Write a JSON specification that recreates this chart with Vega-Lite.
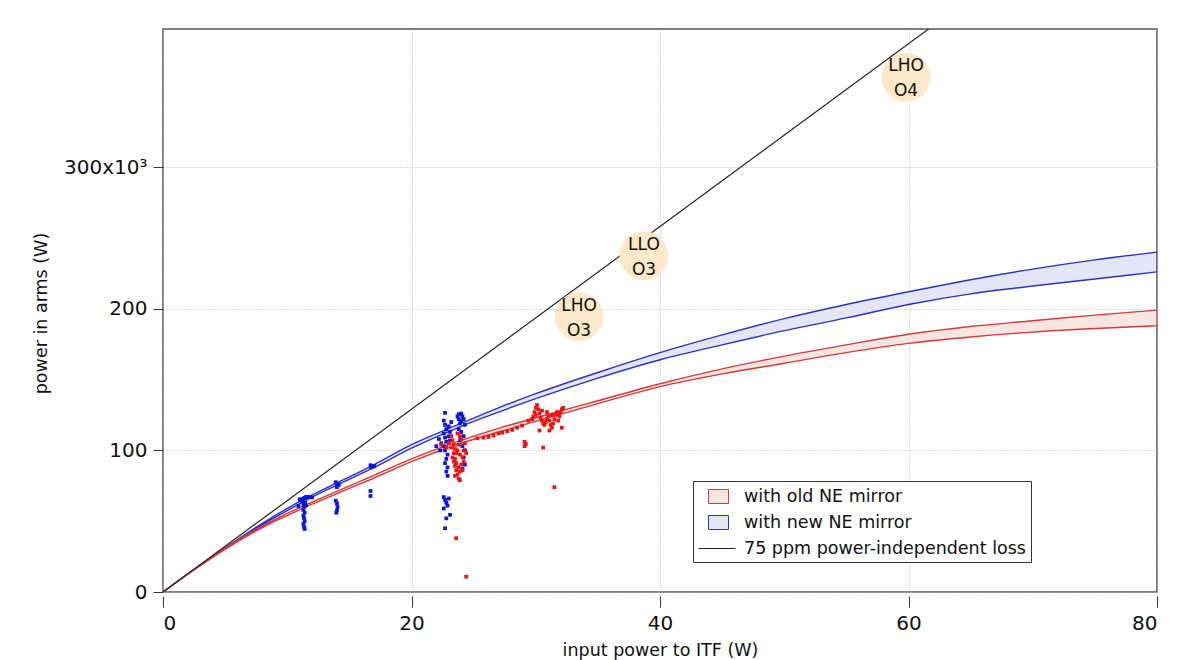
{
  "$schema": "https://vega.github.io/schema/vega-lite/v6.json",
  "width": 994,
  "height": 563,
  "autosize": {"type": "none"},
  "padding": {"left": 163, "top": 29, "right": 27, "bottom": 68},
  "background": "white",
  "datasets": {
    "curves": [
      {"P_in": 0, "mirror": "with new NE mirror", "upper": 0, "lower": 0},
      {"P_in": 2, "mirror": "with new NE mirror", "upper": 12800, "lower": 12700},
      {"P_in": 4, "mirror": "with new NE mirror", "upper": 25200, "lower": 25000},
      {"P_in": 6, "mirror": "with new NE mirror", "upper": 37000, "lower": 36500},
      {"P_in": 8, "mirror": "with new NE mirror", "upper": 48500, "lower": 47500},
      {"P_in": 10, "mirror": "with new NE mirror", "upper": 59000, "lower": 57500},
      {"P_in": 12, "mirror": "with new NE mirror", "upper": 68500, "lower": 67000},
      {"P_in": 14, "mirror": "with new NE mirror", "upper": 77000, "lower": 75500},
      {"P_in": 17, "mirror": "with new NE mirror", "upper": 90000, "lower": 88000},
      {"P_in": 20, "mirror": "with new NE mirror", "upper": 104000, "lower": 101500},
      {"P_in": 24, "mirror": "with new NE mirror", "upper": 119000, "lower": 117000},
      {"P_in": 27, "mirror": "with new NE mirror", "upper": 130000, "lower": 127000},
      {"P_in": 30, "mirror": "with new NE mirror", "upper": 140000, "lower": 136500},
      {"P_in": 35, "mirror": "with new NE mirror", "upper": 155000, "lower": 151000},
      {"P_in": 40, "mirror": "with new NE mirror", "upper": 169000, "lower": 164000},
      {"P_in": 45, "mirror": "with new NE mirror", "upper": 181500, "lower": 174500},
      {"P_in": 50, "mirror": "with new NE mirror", "upper": 193000, "lower": 184500},
      {"P_in": 55, "mirror": "with new NE mirror", "upper": 203000, "lower": 193500},
      {"P_in": 60, "mirror": "with new NE mirror", "upper": 212000, "lower": 203000},
      {"P_in": 65, "mirror": "with new NE mirror", "upper": 220500, "lower": 210500},
      {"P_in": 70, "mirror": "with new NE mirror", "upper": 228000, "lower": 216000},
      {"P_in": 75, "mirror": "with new NE mirror", "upper": 234500, "lower": 221000},
      {"P_in": 80, "mirror": "with new NE mirror", "upper": 240000, "lower": 226000},
      {"P_in": 0, "mirror": "with old NE mirror", "upper": 0, "lower": 0},
      {"P_in": 2, "mirror": "with old NE mirror", "upper": 12700, "lower": 12600},
      {"P_in": 4, "mirror": "with old NE mirror", "upper": 25000, "lower": 24500},
      {"P_in": 6, "mirror": "with old NE mirror", "upper": 36500, "lower": 35500},
      {"P_in": 8, "mirror": "with old NE mirror", "upper": 46500, "lower": 45500},
      {"P_in": 10, "mirror": "with old NE mirror", "upper": 55500, "lower": 54000},
      {"P_in": 12, "mirror": "with old NE mirror", "upper": 63500, "lower": 62000},
      {"P_in": 14, "mirror": "with old NE mirror", "upper": 71000, "lower": 69500},
      {"P_in": 17, "mirror": "with old NE mirror", "upper": 82500, "lower": 80500},
      {"P_in": 20, "mirror": "with old NE mirror", "upper": 94000, "lower": 92000},
      {"P_in": 24, "mirror": "with old NE mirror", "upper": 107000, "lower": 105000},
      {"P_in": 27, "mirror": "with old NE mirror", "upper": 115500, "lower": 113000},
      {"P_in": 30, "mirror": "with old NE mirror", "upper": 123000, "lower": 120500},
      {"P_in": 35, "mirror": "with old NE mirror", "upper": 135000, "lower": 133000},
      {"P_in": 40, "mirror": "with old NE mirror", "upper": 147000, "lower": 145000},
      {"P_in": 45, "mirror": "with old NE mirror", "upper": 157500, "lower": 154000},
      {"P_in": 50, "mirror": "with old NE mirror", "upper": 166500, "lower": 161500},
      {"P_in": 55, "mirror": "with old NE mirror", "upper": 174500, "lower": 169000},
      {"P_in": 60, "mirror": "with old NE mirror", "upper": 182000, "lower": 175500},
      {"P_in": 65, "mirror": "with old NE mirror", "upper": 187500, "lower": 180000},
      {"P_in": 70, "mirror": "with old NE mirror", "upper": 191500, "lower": 183500},
      {"P_in": 75, "mirror": "with old NE mirror", "upper": 195500, "lower": 186000},
      {"P_in": 80, "mirror": "with old NE mirror", "upper": 199000, "lower": 188000}
    ],
    "loss": [
      {"P_in": 0, "P_arm": 0, "mirror": "75 ppm power-independent loss"},
      {"P_in": 62, "P_arm": 400000, "mirror": "75 ppm power-independent loss"}
    ],
    "labels": [
      {"P_in": 33.48, "P_arm": 194500, "site": "LHO\nO3"},
      {"P_in": 38.71, "P_arm": 237500, "site": "LLO\nO3"},
      {"P_in": 59.8, "P_arm": 363500, "site": "LHO\nO4"}
    ],
    "points": [
      {"P_in": 11.0, "P_arm": 65500, "mirror": "new"},
      {"P_in": 11.2, "P_arm": 64000, "mirror": "new"},
      {"P_in": 11.25, "P_arm": 65000, "mirror": "new"},
      {"P_in": 11.3, "P_arm": 66000, "mirror": "new"},
      {"P_in": 11.4, "P_arm": 66500, "mirror": "new"},
      {"P_in": 11.5, "P_arm": 67000, "mirror": "new"},
      {"P_in": 11.6, "P_arm": 67200, "mirror": "new"},
      {"P_in": 11.8, "P_arm": 67000, "mirror": "new"},
      {"P_in": 12.0, "P_arm": 66800, "mirror": "new"},
      {"P_in": 11.3, "P_arm": 62000, "mirror": "new"},
      {"P_in": 11.35, "P_arm": 60000, "mirror": "new"},
      {"P_in": 11.3, "P_arm": 58000, "mirror": "new"},
      {"P_in": 11.4, "P_arm": 56000, "mirror": "new"},
      {"P_in": 11.3, "P_arm": 54000, "mirror": "new"},
      {"P_in": 11.35, "P_arm": 52000, "mirror": "new"},
      {"P_in": 11.4, "P_arm": 50000, "mirror": "new"},
      {"P_in": 11.3, "P_arm": 48000, "mirror": "new"},
      {"P_in": 11.35, "P_arm": 46000, "mirror": "new"},
      {"P_in": 11.45, "P_arm": 63000, "mirror": "new"},
      {"P_in": 11.5, "P_arm": 61000, "mirror": "new"},
      {"P_in": 11.4, "P_arm": 44500, "mirror": "new"},
      {"P_in": 10.9, "P_arm": 60700, "mirror": "new"},
      {"P_in": 13.9, "P_arm": 77500, "mirror": "new"},
      {"P_in": 14.0, "P_arm": 76500, "mirror": "new"},
      {"P_in": 14.1, "P_arm": 75500, "mirror": "new"},
      {"P_in": 14.0, "P_arm": 74000, "mirror": "new"},
      {"P_in": 14.15, "P_arm": 76000, "mirror": "new"},
      {"P_in": 13.9, "P_arm": 64500, "mirror": "new"},
      {"P_in": 14.0, "P_arm": 62500, "mirror": "new"},
      {"P_in": 14.05, "P_arm": 60000, "mirror": "new"},
      {"P_in": 14.0, "P_arm": 57500, "mirror": "new"},
      {"P_in": 13.95, "P_arm": 56000, "mirror": "new"},
      {"P_in": 16.7, "P_arm": 89500, "mirror": "new"},
      {"P_in": 16.8, "P_arm": 89000, "mirror": "new"},
      {"P_in": 16.9, "P_arm": 88500, "mirror": "new"},
      {"P_in": 17.0, "P_arm": 89000, "mirror": "new"},
      {"P_in": 16.75, "P_arm": 88000, "mirror": "new"},
      {"P_in": 16.7, "P_arm": 71300, "mirror": "new"},
      {"P_in": 16.7, "P_arm": 67800, "mirror": "new"},
      {"P_in": 22.6, "P_arm": 121000, "mirror": "new"},
      {"P_in": 22.7, "P_arm": 118000, "mirror": "new"},
      {"P_in": 22.8, "P_arm": 115000, "mirror": "new"},
      {"P_in": 22.6, "P_arm": 112000, "mirror": "new"},
      {"P_in": 22.7, "P_arm": 109000, "mirror": "new"},
      {"P_in": 22.8, "P_arm": 106000, "mirror": "new"},
      {"P_in": 22.6, "P_arm": 103000, "mirror": "new"},
      {"P_in": 22.7, "P_arm": 100000, "mirror": "new"},
      {"P_in": 22.9, "P_arm": 97000, "mirror": "new"},
      {"P_in": 22.8, "P_arm": 94000, "mirror": "new"},
      {"P_in": 22.7, "P_arm": 91000, "mirror": "new"},
      {"P_in": 22.9, "P_arm": 88000, "mirror": "new"},
      {"P_in": 22.8, "P_arm": 85000, "mirror": "new"},
      {"P_in": 22.9, "P_arm": 82000, "mirror": "new"},
      {"P_in": 23.0, "P_arm": 110000, "mirror": "new"},
      {"P_in": 23.1, "P_arm": 113000, "mirror": "new"},
      {"P_in": 23.0, "P_arm": 117000, "mirror": "new"},
      {"P_in": 23.2, "P_arm": 120000, "mirror": "new"},
      {"P_in": 23.1, "P_arm": 107000, "mirror": "new"},
      {"P_in": 22.7, "P_arm": 126500, "mirror": "new"},
      {"P_in": 22.0, "P_arm": 103000, "mirror": "new"},
      {"P_in": 22.2, "P_arm": 108000, "mirror": "new"},
      {"P_in": 22.3, "P_arm": 100000, "mirror": "new"},
      {"P_in": 22.4, "P_arm": 105000, "mirror": "new"},
      {"P_in": 23.7, "P_arm": 124000, "mirror": "new"},
      {"P_in": 23.8, "P_arm": 122000, "mirror": "new"},
      {"P_in": 23.9, "P_arm": 119000, "mirror": "new"},
      {"P_in": 24.0, "P_arm": 121000, "mirror": "new"},
      {"P_in": 24.1, "P_arm": 124000, "mirror": "new"},
      {"P_in": 24.2, "P_arm": 122000, "mirror": "new"},
      {"P_in": 24.3, "P_arm": 118000, "mirror": "new"},
      {"P_in": 23.8, "P_arm": 115000, "mirror": "new"},
      {"P_in": 24.0, "P_arm": 113000, "mirror": "new"},
      {"P_in": 24.2, "P_arm": 110000, "mirror": "new"},
      {"P_in": 23.9, "P_arm": 107000, "mirror": "new"},
      {"P_in": 24.1, "P_arm": 103000, "mirror": "new"},
      {"P_in": 24.3, "P_arm": 100000, "mirror": "new"},
      {"P_in": 24.2, "P_arm": 95000, "mirror": "new"},
      {"P_in": 24.3, "P_arm": 90000, "mirror": "new"},
      {"P_in": 24.1, "P_arm": 87000, "mirror": "new"},
      {"P_in": 23.8, "P_arm": 125500, "mirror": "new"},
      {"P_in": 24.0, "P_arm": 126000, "mirror": "new"},
      {"P_in": 22.6, "P_arm": 67000, "mirror": "new"},
      {"P_in": 22.7, "P_arm": 65000, "mirror": "new"},
      {"P_in": 22.8, "P_arm": 63000, "mirror": "new"},
      {"P_in": 22.9, "P_arm": 61000, "mirror": "new"},
      {"P_in": 22.6, "P_arm": 59000, "mirror": "new"},
      {"P_in": 23.0, "P_arm": 66000, "mirror": "new"},
      {"P_in": 23.1, "P_arm": 54500, "mirror": "new"},
      {"P_in": 22.8, "P_arm": 52000, "mirror": "new"},
      {"P_in": 22.7, "P_arm": 45000, "mirror": "new"},
      {"P_in": 23.2, "P_arm": 110000, "mirror": "old"},
      {"P_in": 23.3, "P_arm": 107000, "mirror": "old"},
      {"P_in": 23.4, "P_arm": 104000, "mirror": "old"},
      {"P_in": 23.5, "P_arm": 101000, "mirror": "old"},
      {"P_in": 23.6, "P_arm": 98000, "mirror": "old"},
      {"P_in": 23.3, "P_arm": 95000, "mirror": "old"},
      {"P_in": 23.4, "P_arm": 92000, "mirror": "old"},
      {"P_in": 23.5, "P_arm": 89000, "mirror": "old"},
      {"P_in": 23.6, "P_arm": 86000, "mirror": "old"},
      {"P_in": 23.7, "P_arm": 83000, "mirror": "old"},
      {"P_in": 23.8, "P_arm": 80000, "mirror": "old"},
      {"P_in": 23.9, "P_arm": 85000, "mirror": "old"},
      {"P_in": 24.0, "P_arm": 90000, "mirror": "old"},
      {"P_in": 24.1, "P_arm": 95000, "mirror": "old"},
      {"P_in": 24.2, "P_arm": 100000, "mirror": "old"},
      {"P_in": 24.3, "P_arm": 105000, "mirror": "old"},
      {"P_in": 24.0, "P_arm": 108000, "mirror": "old"},
      {"P_in": 23.8, "P_arm": 104000, "mirror": "old"},
      {"P_in": 23.7, "P_arm": 100000, "mirror": "old"},
      {"P_in": 23.9, "P_arm": 97000, "mirror": "old"},
      {"P_in": 23.5, "P_arm": 94000, "mirror": "old"},
      {"P_in": 23.6, "P_arm": 91000, "mirror": "old"},
      {"P_in": 23.8, "P_arm": 88000, "mirror": "old"},
      {"P_in": 24.1, "P_arm": 86000, "mirror": "old"},
      {"P_in": 23.4, "P_arm": 98000, "mirror": "old"},
      {"P_in": 23.2, "P_arm": 102000, "mirror": "old"},
      {"P_in": 24.2, "P_arm": 92000, "mirror": "old"},
      {"P_in": 23.9, "P_arm": 110000, "mirror": "old"},
      {"P_in": 23.7, "P_arm": 112000, "mirror": "old"},
      {"P_in": 24.4, "P_arm": 98000, "mirror": "old"},
      {"P_in": 23.5, "P_arm": 82000, "mirror": "old"},
      {"P_in": 23.9, "P_arm": 79000, "mirror": "old"},
      {"P_in": 22.4, "P_arm": 104000, "mirror": "old"},
      {"P_in": 22.8, "P_arm": 102000, "mirror": "old"},
      {"P_in": 23.0, "P_arm": 105000, "mirror": "old"},
      {"P_in": 23.6, "P_arm": 38000, "mirror": "old"},
      {"P_in": 24.4, "P_arm": 10800, "mirror": "old"},
      {"P_in": 25.3, "P_arm": 108500, "mirror": "old"},
      {"P_in": 25.8, "P_arm": 109000, "mirror": "old"},
      {"P_in": 26.2, "P_arm": 109500, "mirror": "old"},
      {"P_in": 26.6, "P_arm": 110500, "mirror": "old"},
      {"P_in": 27.0, "P_arm": 112000, "mirror": "old"},
      {"P_in": 27.3, "P_arm": 112500, "mirror": "old"},
      {"P_in": 27.7, "P_arm": 113500, "mirror": "old"},
      {"P_in": 28.1, "P_arm": 114500, "mirror": "old"},
      {"P_in": 28.5, "P_arm": 116000, "mirror": "old"},
      {"P_in": 28.9, "P_arm": 117500, "mirror": "old"},
      {"P_in": 29.1, "P_arm": 106000, "mirror": "old"},
      {"P_in": 29.1, "P_arm": 103000, "mirror": "old"},
      {"P_in": 29.2, "P_arm": 104500, "mirror": "old"},
      {"P_in": 29.4, "P_arm": 121000, "mirror": "old"},
      {"P_in": 29.7, "P_arm": 122000, "mirror": "old"},
      {"P_in": 29.8, "P_arm": 124000, "mirror": "old"},
      {"P_in": 29.9, "P_arm": 127000, "mirror": "old"},
      {"P_in": 30.0, "P_arm": 130000, "mirror": "old"},
      {"P_in": 30.0, "P_arm": 125000, "mirror": "old"},
      {"P_in": 30.1, "P_arm": 132000, "mirror": "old"},
      {"P_in": 30.2, "P_arm": 129000, "mirror": "old"},
      {"P_in": 30.3, "P_arm": 126000, "mirror": "old"},
      {"P_in": 30.4, "P_arm": 123000, "mirror": "old"},
      {"P_in": 30.5, "P_arm": 121000, "mirror": "old"},
      {"P_in": 30.5, "P_arm": 128000, "mirror": "old"},
      {"P_in": 30.6, "P_arm": 119000, "mirror": "old"},
      {"P_in": 30.7, "P_arm": 118000, "mirror": "old"},
      {"P_in": 30.8, "P_arm": 120000, "mirror": "old"},
      {"P_in": 30.9, "P_arm": 122000, "mirror": "old"},
      {"P_in": 30.9, "P_arm": 127000, "mirror": "old"},
      {"P_in": 31.0, "P_arm": 124000, "mirror": "old"},
      {"P_in": 31.1, "P_arm": 121000, "mirror": "old"},
      {"P_in": 31.2, "P_arm": 118000, "mirror": "old"},
      {"P_in": 31.3, "P_arm": 116000, "mirror": "old"},
      {"P_in": 31.3, "P_arm": 125000, "mirror": "old"},
      {"P_in": 31.4, "P_arm": 119000, "mirror": "old"},
      {"P_in": 31.5, "P_arm": 122000, "mirror": "old"},
      {"P_in": 31.6, "P_arm": 125000, "mirror": "old"},
      {"P_in": 31.7, "P_arm": 127000, "mirror": "old"},
      {"P_in": 31.8, "P_arm": 126000, "mirror": "old"},
      {"P_in": 31.8, "P_arm": 121000, "mirror": "old"},
      {"P_in": 31.9, "P_arm": 124000, "mirror": "old"},
      {"P_in": 32.0, "P_arm": 127000, "mirror": "old"},
      {"P_in": 32.1, "P_arm": 129000, "mirror": "old"},
      {"P_in": 32.2, "P_arm": 130000, "mirror": "old"},
      {"P_in": 30.3, "P_arm": 114000, "mirror": "old"},
      {"P_in": 31.1, "P_arm": 114000, "mirror": "old"},
      {"P_in": 32.1, "P_arm": 116000, "mirror": "old"},
      {"P_in": 30.6, "P_arm": 102000, "mirror": "old"},
      {"P_in": 31.5, "P_arm": 74000, "mirror": "old"}
    ]
  },
  "layer": [
    {
      "data": {"name": "curves"},
      "mark": {"type": "area", "fillOpacity": 1, "strokeWidth": 1.4, "interpolate": "monotone", "clip": true},
      "encoding": {
        "x": {
          "field": "P_in",
          "type": "quantitative",
          "scale": {"domain": [0, 80], "nice": false},
          "axis": {
            "values": [0, 20, 40, 60, 80],
            "title": "input power to ITF (W)",
            "grid": true,
            "gridColor": "#bbbbbb",
            "gridDash": [1, 2],
            "domain": false,
            "offset": 4,
            "tickSize": 11,
            "tickColor": "#333333",
            "labelFont": "DejaVu Sans",
            "labelFontSize": 20,
            "labelColor": "#111111",
            "labelPadding": 6,
            "titleFont": "DejaVu Sans",
            "titleFontSize": 17.5,
            "titleFontWeight": "normal",
            "titleColor": "#111111",
            "titleY": 59,
            "titleBaseline": "alphabetic"
          }
        },
        "y": {
          "field": "upper",
          "type": "quantitative",
          "scale": {"domain": [0, 397500], "nice": false},
          "axis": {
            "values": [0, 100000, 200000, 300000],
            "labelExpr": "datum.value === 300000 ? '300x10³' : format(datum.value / 1000, 'd')",
            "title": "power in arms (W)",
            "grid": true,
            "gridColor": "#bbbbbb",
            "gridDash": [1, 2],
            "domain": false,
            "tickSize": 10,
            "tickColor": "#333333",
            "labelFont": "DejaVu Sans",
            "labelFontSize": 20,
            "labelColor": "#111111",
            "labelPadding": 6,
            "titleFont": "DejaVu Sans",
            "titleFontSize": 17.5,
            "titleFontWeight": "normal",
            "titleColor": "#111111",
            "titleX": -117,
            "titleY": 284,
            "titleAngle": -90,
            "titleAlign": "center",
            "titleBaseline": "alphabetic"
          }
        },
        "y2": {"field": "lower"},
        "fill": {
          "field": "mirror",
          "type": "nominal",
          "scale": {
            "domain": ["with old NE mirror", "with new NE mirror", "75 ppm power-independent loss"],
            "range": ["#f9e6e3", "#e4e6f7", "transparent"]
          },
          "legend": {
            "title": null,
            "orient": "none",
            "legendX": 530,
            "legendY": 452,
            "padding": 5,
            "strokeColor": "#333333",
            "fillColor": "white",
            "labelFont": "DejaVu Sans",
            "labelFontSize": 17.5,
            "labelColor": "#111111",
            "labelLimit": 400,
            "labelOffset": 25,
            "symbolSize": 400,
            "symbolStrokeWidth": 1,
            "rowPadding": 6
          }
        },
        "stroke": {
          "field": "mirror",
          "type": "nominal",
          "scale": {
            "domain": ["with old NE mirror", "with new NE mirror", "75 ppm power-independent loss"],
            "range": ["#d83838", "#2c30c8", "#222222"]
          },
          "legend": {"title": null}
        }
      }
    },
    {
      "data": {"name": "loss"},
      "mark": {"type": "line", "strokeWidth": 1.2, "clip": true},
      "encoding": {
        "x": {"field": "P_in", "type": "quantitative"},
        "y": {"field": "P_arm", "type": "quantitative"},
        "stroke": {"field": "mirror", "type": "nominal", "legend": null}
      }
    },
    {
      "data": {"name": "loss"},
      "mark": {"type": "point", "opacity": 0, "clip": true},
      "encoding": {
        "x": {"field": "P_in", "type": "quantitative"},
        "y": {"field": "P_arm", "type": "quantitative"},
        "shape": {
          "field": "mirror",
          "type": "nominal",
          "scale": {
            "domain": ["with old NE mirror", "with new NE mirror", "75 ppm power-independent loss"],
            "range": ["M0,-0.7H2V0.7H0Z", "M0,-0.7H2V0.7H0Z", "M-1,0H2.7"]
          },
          "legend": {"title": null}
        }
      }
    },
    {
      "data": {"name": "points"},
      "transform": [{"filter": "datum.mirror === 'new'"}],
      "mark": {"type": "square", "size": 14, "filled": true, "opacity": 1, "color": "#0a16d8"},
      "encoding": {
        "x": {"field": "P_in", "type": "quantitative"},
        "y": {"field": "P_arm", "type": "quantitative"}
      }
    },
    {
      "data": {"name": "points"},
      "transform": [{"filter": "datum.mirror === 'old'"}],
      "mark": {"type": "square", "size": 14, "filled": true, "opacity": 1, "color": "#ee1212"},
      "encoding": {
        "x": {"field": "P_in", "type": "quantitative"},
        "y": {"field": "P_arm", "type": "quantitative"}
      }
    },
    {
      "data": {"name": "labels"},
      "mark": {"type": "circle", "size": 2376, "opacity": 1, "color": "#fbe8c8"},
      "encoding": {
        "x": {"field": "P_in", "type": "quantitative"},
        "y": {"field": "P_arm", "type": "quantitative"}
      }
    },
    {
      "data": {"name": "labels"},
      "mark": {"type": "text", "lineBreak": "\n", "lineHeight": 25, "dy": -11, "font": "DejaVu Sans", "fontSize": 17, "color": "#111111", "align": "center", "baseline": "middle"},
      "encoding": {
        "x": {"field": "P_in", "type": "quantitative"},
        "y": {"field": "P_arm", "type": "quantitative"},
        "text": {"field": "site"}
      }
    }
  ],
  "config": {
    "view": {"stroke": "#555555", "strokeWidth": 1.5}
  }
}
